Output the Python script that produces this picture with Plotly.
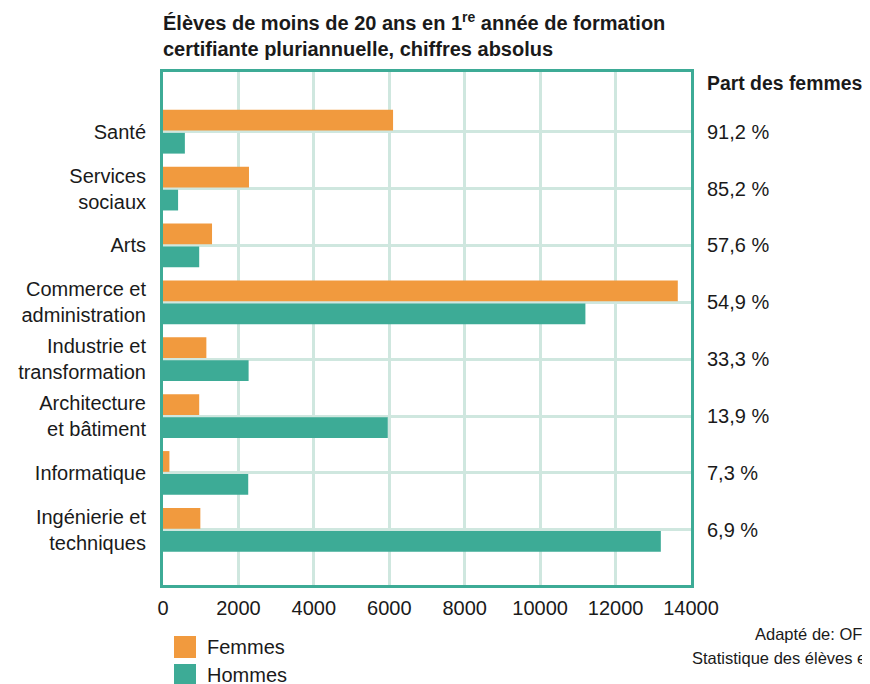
import plotly.graph_objects as go

categories = ["Santé", "Services<br>sociaux", "Arts", "Commerce et<br>administration",
              "Industrie et<br>transformation", "Architecture<br>et bâtiment",
              "Informatique", "Ingénierie et<br>techniques"]
femmes = [6100, 2280, 1300, 13650, 1150, 960, 170, 990]
hommes = [580, 400, 960, 11200, 2270, 5960, 2260, 13200]
part_femmes = ["91,2 %", "85,2 %", "57,6 %", "54,9 %", "33,3 %", "13,9 %", "7,3 %", "6,9 %"]
x_ticks = [0, 2000, 4000, 6000, 8000, 10000, 12000, 14000]
series_names = ["Femmes", "Hommes"]

ORANGE = "#f19a3e"
GREEN = "#3dab96"
GRID = "#cfe7df"
FONT = "Liberation Sans, Arial, sans-serif"
TXT = "#1a1a1a"
FS = 20

# the page body adds an 8px margin; work in screen pixels and shift
OFF = 8
FW, FH = 870 - OFF, 684 - OFF

fig = go.Figure()
fig.add_trace(go.Bar(y=categories, x=femmes, name=series_names[0], orientation="h",
                     marker=dict(color=ORANGE, line=dict(width=0))))
fig.add_trace(go.Bar(y=categories, x=hommes, name=series_names[1], orientation="h",
                     marker=dict(color=GREEN, line=dict(width=0))))

# plot area in screen pixels: x 163..691, y 72..585
L, R, T, B = 163 - OFF, 691 - OFF, 72 - OFF, 585 - OFF
W, H = R - L, B - T


def px_x(x):
    return (x - OFF - L) / W


def px_y(y):
    return (B - (y - OFF)) / H


annotations = []
for c, p in zip(categories, part_femmes):
    annotations.append(dict(x=px_x(705), xref="paper", y=c, yref="y", text=p,
                            showarrow=False, xanchor="left", yanchor="middle",
                            font=dict(size=FS, color=TXT, family=FONT)))
annotations.append(dict(x=px_x(705), xref="paper", y=px_y(83), yref="paper",
                        text="<b>Part des femmes</b>", showarrow=False,
                        xanchor="left", yanchor="middle",
                        font=dict(size=19.4, color=TXT, family=FONT)))
# source
annotations.append(dict(x=px_x(753), xref="paper", y=px_y(634), yref="paper",
                        text="Adapté de: OFS", showarrow=False, xanchor="left", yanchor="middle",
                        font=dict(size=16.5, color=TXT, family=FONT)))
annotations.append(dict(x=px_x(690), xref="paper", y=px_y(658), yref="paper",
                        text="Statistique des élèves et étudiants", showarrow=False,
                        xanchor="left", yanchor="middle",
                        font=dict(size=16.5, color=TXT, family=FONT)))

# manual legend (large swatches)
shapes = []
for i, (name, col) in enumerate(zip(series_names, [ORANGE, GREEN])):
    top = 636 + i * 28
    shapes.append(dict(type="rect", xref="paper", yref="paper",
                       x0=px_x(174), x1=px_x(196), y0=px_y(top), y1=px_y(top + 22),
                       fillcolor=col, line=dict(width=0)))
    annotations.append(dict(x=px_x(205), xref="paper", y=px_y(top + 11), yref="paper",
                            text=name, showarrow=False, xanchor="left", yanchor="middle",
                            font=dict(size=FS, color=TXT, family=FONT)))

fig.update_layout(
    width=FW, height=FH,
    margin=dict(l=L, r=FW - R, t=T, b=FH - B, autoexpand=False),
    paper_bgcolor="white", plot_bgcolor="white",
    barmode="group", bargap=0.19, bargroupgap=0.1,
    showlegend=False,
    font=dict(family=FONT, size=FS, color=TXT),
    title=dict(text="<b>Élèves de moins de 20 ans en 1<sup>re</sup> année de formation<br>certifiante pluriannuelle, chiffres absolus</b>",
               x=L / FW, xanchor="left", xref="container",
               y=1 - 22 / FH, yanchor="middle", yref="container",
               font=dict(size=FS, color=TXT, family=FONT)),
    xaxis=dict(range=[0, 14000], tickvals=x_ticks, tickformat="d",
               showgrid=True, gridcolor=GRID, gridwidth=3,
               showline=True, linecolor=GREEN, linewidth=3, mirror=True,
               zeroline=False, ticks="", ticklabelstandoff=3,
               tickfont=dict(size=FS, color=TXT, family=FONT)),
    yaxis=dict(range=[7.97, -1.05], showgrid=True, gridcolor=GRID, gridwidth=3,
               showline=True, linecolor=GREEN, linewidth=3, mirror=True,
               zeroline=False, ticks="", ticklabelstandoff=10,
               tickfont=dict(size=FS, color=TXT, family=FONT)),
    shapes=shapes,
    annotations=annotations,
)

fig.write_html("out.html")
